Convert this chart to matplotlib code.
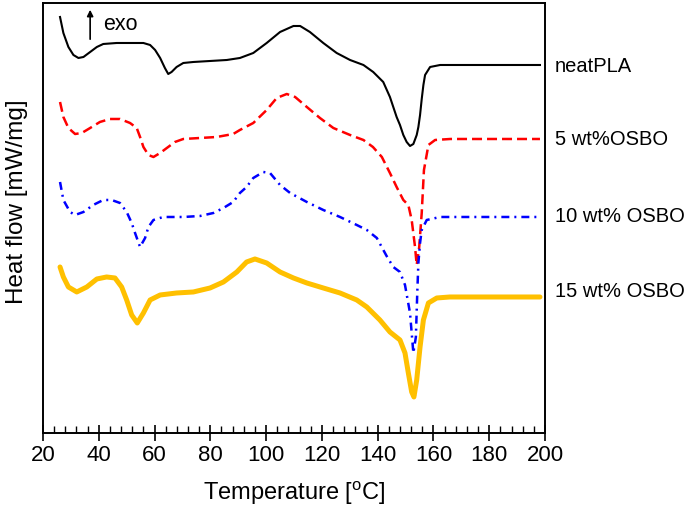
import matplotlib
matplotlib.use("Agg")
import matplotlib.pyplot as plt
from matplotlib.ticker import MultipleLocator

plt.rcParams['font.family'] = ['Liberation Sans', 'DejaVu Sans']
plt.rcParams['mathtext.fontset'] = 'custom'
plt.rcParams['mathtext.rm'] = 'Liberation Sans'

# ------------------------------
# Data (heat flow is offset, arbitrary units)
# ------------------------------
T_neat = [26.1, 27.3, 29.1, 30.9, 32.7, 34.5, 36.9, 39.3, 41.6, 46.4, 52.4, 56.0,
          58.4, 60.2, 62.0, 63.7, 64.9, 66.1, 67.9, 70.3, 73.9, 79.9, 85.9, 90.6,
          95.4, 100.2, 105.0, 109.8, 112.2, 115.7, 120.5, 125.3, 130.1, 134.9,
          138.4, 142.0, 144.4, 146.8, 148.0, 149.2, 150.4, 151.6, 152.8, 154.0,
          154.6, 155.2, 155.8, 156.4, 157.0, 158.8, 162.4, 198.2]
hf_neat = [416, 400, 386, 378, 375, 376, 381, 386, 389, 390, 390, 390,
           388, 383, 375, 365, 359, 361, 366, 370, 371, 372, 373, 375,
           380, 390, 401, 407, 407, 401, 390, 380, 373, 368,
           361, 351, 336, 316, 308, 298, 291, 287, 289, 298,
           306, 318, 334, 348, 358, 366, 368, 368]

T_5 = [26.1, 27.3, 29.1, 31.5, 33.9, 36.9, 40.4, 44.0, 47.6, 51.2, 53.6, 54.8,
       56.0, 57.8, 59.6, 62.0, 64.4, 67.3, 70.3, 76.3, 82.3, 88.2, 90.6, 95.4,
       100.2, 103.8, 107.4, 110.4, 114.6, 119.3, 124.1, 130.1, 134.9, 138.3,
       141.5, 144.4, 146.8, 149.2, 151.0, 152.2, 153.4, 154.0, 154.9, 155.8,
       156.6, 158.2, 160.6, 166.0, 198.2]
hf_5 = [331, 316, 305, 299, 300, 305, 311, 314, 314, 310, 305, 296,
        286, 278, 276, 280, 285, 291, 294, 295, 296, 299, 303, 310,
        323, 335, 339, 336, 326, 315, 305, 298, 293, 286,
        276, 260, 246, 233, 228, 213, 186, 168, 186, 220,
        263, 288, 293, 294, 294]

T_10 = [26.1, 27.3, 29.7, 31.5, 34.5, 38.0, 41.6, 44.6, 47.6, 50.0, 51.8, 53.0,
        54.8, 56.6, 57.8, 59.6, 63.1, 70.3, 76.3, 81.1, 84.7, 88.2, 90.6, 93.0,
        95.4, 99.0, 101.4, 105.0, 108.6, 114.6, 120.5, 126.5, 132.5, 136.1,
        139.7, 143.2, 145.6, 148.0, 149.8, 151.6, 152.8, 153.7, 154.2, 154.6,
        155.2, 155.8, 157.6, 162.4, 198.2]
hf_10 = [251, 233, 221, 218, 221, 228, 233, 233, 230, 221, 210, 200,
         186, 195, 206, 213, 216, 216, 217, 220, 225, 231, 240, 246,
         255, 261, 260, 248, 240, 231, 223, 216, 208, 203,
         195, 177, 166, 161, 148, 120, 80, 96, 140, 170,
         190, 203, 213, 216, 216]

T_15 = [26.1, 27.3, 29.1, 32.1, 35.7, 39.3, 42.8, 45.8, 48.2, 50.0, 51.8, 53.8,
        56.0, 58.4, 62.0, 67.9, 73.9, 79.9, 84.7, 89.5, 93.0, 96.0, 100.2, 105.0,
        109.8, 114.6, 120.5, 126.5, 132.5, 136.1, 140.8, 144.4, 148.0, 149.8,
        151.0, 152.2, 153.0, 154.0, 155.2, 156.4, 158.2, 161.2, 165.9, 198.2]
hf_15 = [166, 156, 146, 141, 146, 154, 156, 155, 146, 133, 118, 110,
         120, 133, 138, 140, 141, 145, 151, 161, 171, 174, 170, 161,
         155, 150, 145, 140, 133, 126, 113, 101, 93, 80,
         60, 41, 36, 53, 86, 113, 130, 135, 136, 136]

labels = ["neatPLA", "5 wt%OSBO", "10 wt% OSBO", "15 wt% OSBO"]
label_levels = [366, 293, 216, 141]

# ------------------------------
# Plot
# ------------------------------
fig = plt.figure(figsize=(6.85, 5.07), dpi=100)
ax = fig.add_axes([0.0628, 0.146, 0.7328, 0.8481])

ax.plot(T_neat, hf_neat, color='black', lw=1.5, solid_joinstyle='round')
ax.plot(T_5, hf_5, color='#ff0000', lw=1.8, linestyle=(0, (4, 2)),
        dash_joinstyle='round')
ax.plot(T_10, hf_10, color='#0000ff', lw=1.8, linestyle=(0, (3.2, 2, 0.8, 2)),
        dash_joinstyle='round')
ax.plot(T_15, hf_15, color='#ffc000', lw=3.6, solid_capstyle='round',
        solid_joinstyle='round')

for lab, lev in zip(labels, label_levels):
    ax.text(1.02, lev, lab, transform=ax.get_yaxis_transform(),
            fontsize=14.5, va='center', ha='left')

# exo arrow
ax.annotate("", xy=(36.9, 426), xytext=(36.9, 391),
            arrowprops=dict(arrowstyle='-|>', color='black', lw=1.2,
                            mutation_scale=9))
ax.text(41.5, 408, "exo", fontsize=15.5, va='center', ha='left')

ax.set_xlim(20, 200)
ax.set_ylim(0, 430)
ax.xaxis.set_major_locator(MultipleLocator(20))
ax.xaxis.set_minor_locator(MultipleLocator(4))
ax.tick_params(axis='x', which='major', direction='inout', length=12, width=1.2,
               labelsize=16, pad=3)
ax.tick_params(axis='x', which='minor', direction='in', length=5, width=1.0)
ax.set_yticks([])
for sp in ax.spines.values():
    sp.set_linewidth(1.4)

ax.set_xlabel("Temperature [$^\\mathregular{o}$C]", fontsize=17)
ax.xaxis.set_label_coords(0.5, -0.108)
fig.text(17.5 / 685, 1 - 202 / 507, "Heat flow [mW/mg]", fontsize=17.5,
         rotation=90, ha='center', va='center')

fig.savefig("out.png", dpi=100)
